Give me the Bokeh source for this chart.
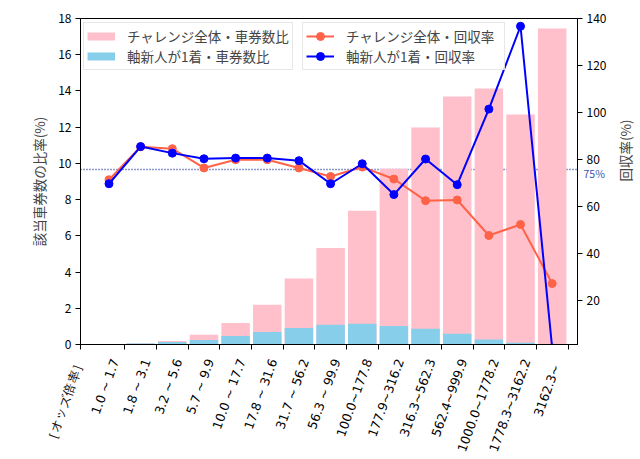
import math

from bokeh.plotting import figure
from bokeh.models import (Range1d, LinearAxis, FixedTicker, Legend, LegendItem,
                          Span, Label)
from bokeh.embed import file_html
from bokeh.resources import INLINE

# odds ranges (x categories) and values
axis_title = "［オッズ倍率］"
odds_labels = ["1.0 ~ 1.7", "1.8 ~ 3.1", "3.2 ~ 5.6", "5.7 ~ 9.9", "10.0 ~ 17.7",
               "17.8 ~ 31.6", "31.7 ~ 56.2", "56.3 ~ 99.9", "100.0~177.8",
               "177.9~316.2", "316.3~562.3", "562.4~999.9", "1000.0~1778.2",
               "1778.3~3162.2", "3162.3~"]
pos = list(range(1, 16))

# share of tickets (%)
all_share = [0.01, 0.05, 0.19, 0.54, 1.19, 2.20, 3.64, 5.33, 7.38, 9.71,
             11.98, 13.69, 14.13, 12.70, 17.45]
new_share = [0.01, 0.05, 0.14, 0.25, 0.47, 0.69, 0.91, 1.09, 1.15, 1.02,
             0.87, 0.60, 0.27, 0.10, 0.03]

# return rate (%)
all_rate = [71.5, 85.5, 84.7, 76.5, 80.0, 80.0, 76.5, 72.9, 76.9, 71.8,
            62.6, 62.9, 47.8, 52.5, 27.4]
new_rate = [69.8, 85.6, 82.8, 80.4, 80.7, 80.7, 79.6, 69.8, 78.3, 65.2,
            80.3, 69.4, 101.5, 136.7, 0.0]
ref_rate = 75.8

FONT = "Noto Sans CJK JP"
X0, X1 = 0.1, 15.8

p = figure(frame_width=497, frame_height=326,
           x_range=Range1d(X0, X1), y_range=Range1d(0, 18),
           output_backend="svg", toolbar_location=None, tools="",
           min_border_left=80, min_border_right=62, min_border_top=18,
           min_border_bottom=114)
p.extra_y_ranges = {"rate": Range1d(1.5, 140)}

p.xgrid.grid_line_color = None
p.ygrid.grid_line_color = None
p.outline_line_color = "black"
p.outline_line_width = 1

# dotted reference line, behind the bars
p.add_layout(Span(location=ref_rate, dimension="width", y_range_name="rate",
                  line_color="#1a3098", line_width=1.5, line_dash="1 2",
                  level="underlay"))

# bars
p.vbar(x=pos, top=all_share, width=0.9, fill_color="pink", line_color=None)
p.vbar(x=pos, top=new_share, width=0.9, fill_color="skyblue", line_color=None)

# return rate lines
l1 = p.line(pos, all_rate, y_range_name="rate", line_color="tomato", line_width=2)
s1 = p.scatter(pos, all_rate, y_range_name="rate", color="tomato", size=8)
l2 = p.line(pos, new_rate, y_range_name="rate", line_color="blue", line_width=2)
s2 = p.scatter(pos, new_rate, y_range_name="rate", color="blue", size=8)

# legend-only swatches for the bars (nothing drawn in the plot)
nan = float("nan")
d1 = p.line([nan], [nan], line_color="pink", line_width=8)
d2 = p.line([nan], [nan], line_color="skyblue", line_width=8)

# x axis: the category title sits on the frame corner, ranges between bars.
# the trailing empty line nudges each rotated label off its tick like mpl does
xa = p.xaxis[0]
xa.ticker = FixedTicker(ticks=[X0] + [x + 0.5 for x in pos])
overrides = {X0: axis_title}
for x, lab in zip(pos, odds_labels):
    tail = "\u2002\u00a0\n" if lab.endswith("~") else "\u00a0\n"
    overrides[x + 0.5] = lab + tail
xa.major_label_overrides = overrides
xa.major_label_orientation = math.radians(70)
xa.minor_tick_line_color = None

# left axis
ya = p.yaxis[0]
ya.ticker = FixedTicker(ticks=list(range(0, 19, 2)))
ya.axis_label = "該当車券数の比率(%)"
ya.minor_tick_line_color = None

# right axis
ya2 = LinearAxis(y_range_name="rate", ticker=FixedTicker(ticks=list(range(20, 141, 20))),
                 axis_label="回収率(%)")
ya2.minor_tick_line_color = None
p.add_layout(ya2, "right")
ya2.axis_label_orientation = math.pi / 2

for ax in [xa, ya, ya2]:
    ax.axis_line_color = "black"
    ax.major_tick_line_color = "black"
    ax.major_tick_out = 5
    ax.major_tick_in = 0
    ax.major_label_text_font = FONT
    ax.major_label_text_font_size = "12px"
    ax.major_label_text_color = "black"
    ax.axis_label_text_font = FONT
    ax.axis_label_text_font_size = "13.5px"
    ax.axis_label_text_font_style = "normal"
    ax.axis_label_standoff = 6
    ax.major_label_standoff = 4
xa.major_label_text_font = "DejaVu Sans"
xa.major_label_text_font_size = "12.5px"
xa.major_label_standoff = 9
ya2.axis_label_standoff = 16

# "75%" next to the right spine; kept in a side panel so it is not clipped
p.add_layout(Label(x=X1, y=ref_rate, y_range_name="rate", x_offset=6, y_offset=-4,
                   text="75%", text_font=FONT, text_font_size="10.5px",
                   text_color="#3a55b0", text_baseline="middle"), "above")

# legends
def style(leg):
    leg.label_text_font = FONT
    leg.label_text_font_size = "13.5px"
    leg.glyph_width = 28
    leg.glyph_height = 20
    leg.label_height = 20
    leg.label_standoff = 12
    leg.spacing = 0
    leg.padding = 3
    leg.margin = 0
    leg.border_line_color = "#d0d0d0"
    leg.background_fill_alpha = 0.8

leg1 = Legend(items=[LegendItem(label="チャレンジ全体・車券数比", renderers=[d1]),
                     LegendItem(label="軸新人が1着・車券数比", renderers=[d2])],
              location=(3, 274))
leg2 = Legend(items=[LegendItem(label="チャレンジ全体・回収率\u2002", renderers=[l1, s1]),
                     LegendItem(label="軸新人が1着・回収率", renderers=[l2, s2])],
              location=(222, 274))
style(leg1)
style(leg2)
p.add_layout(leg1)
p.add_layout(leg2)

open("out.html", "w").write(file_html(p, INLINE))
